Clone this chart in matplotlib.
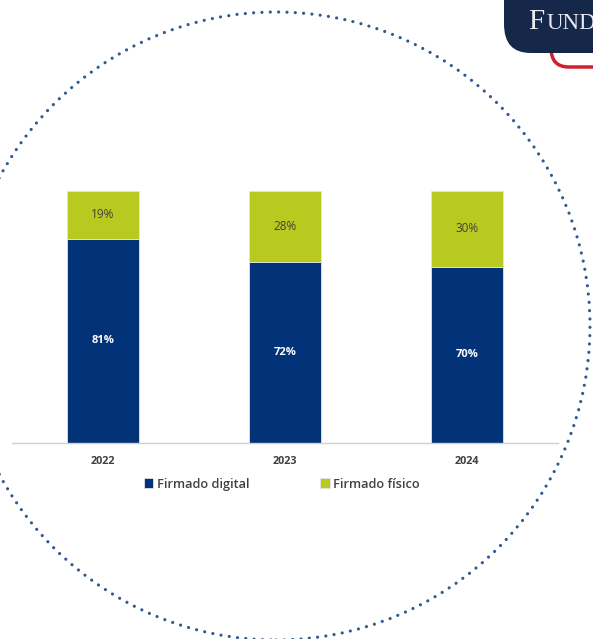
import matplotlib
matplotlib.use("Agg")
import matplotlib.pyplot as plt
import numpy as np
from matplotlib.patches import Ellipse, FancyBboxPatch

years = ["2022", "2023", "2024"]
digital = [81, 72, 70]
fisico = [19, 28, 30]
series_names = ["Firmado digital", "Firmado físico"]

NAVY = "#023378"
GREEN = "#B8C91F"
DOT = "#2F5A91"
TXT = "#404040"

W, H = 593, 639
fig = plt.figure(figsize=(W / 100, H / 100), dpi=100)
plt.rcParams['font.family'] = ['Open Sans', 'DejaVu Sans']

def fx(px):
    return px / W

def fy(py):
    return 1 - py / H

# dotted circle
circ = Ellipse((fx(276), fy(326)), width=628 / W, height=628 / H,
               transform=fig.transFigure, fill=False, edgecolor=DOT,
               linewidth=2.3, linestyle=(0, (0.01, 2.6)), capstyle='round',
               zorder=0)
fig.patches.append(circ)

# badge top right
red = FancyBboxPatch((fx(551), fy(67)), 0.3, 42 / H,
                     boxstyle="round,pad=0,rounding_size=0.03",
                     transform=fig.transFigure, facecolor="white",
                     edgecolor="#D0202E", linewidth=2.5, zorder=1)
fig.patches.append(red)
badge = FancyBboxPatch((fx(504), fy(53)), 0.3, 80 / H,
                       boxstyle="round,pad=0,rounding_size=0.045",
                       transform=fig.transFigure, facecolor="#15284A",
                       edgecolor="none", zorder=2)
fig.patches.append(badge)
fig.text(fx(528), fy(22), "F", family="Liberation Serif", fontsize=21,
         color="#ECECF2", va="center", ha="left", zorder=3)
fig.text(fx(547), fy(23.5), "UND", family="Liberation Serif", fontsize=16.5,
         color="#ECECF2", va="center", ha="left", zorder=3)

ax = fig.add_axes([fx(12), fy(443), 546 / W, 252 / H])
x = np.arange(len(years))
bw = 0.395
b1 = ax.bar(x, digital, bw, color=NAVY, label=series_names[0],
            edgecolor="#E0E4EC", linewidth=0.6, zorder=2)
b2 = ax.bar(x, fisico, bw, bottom=digital, color=GREEN, label=series_names[1],
            edgecolor="#E0E4EC", linewidth=0.6, zorder=2)

for i in range(len(years)):
    ax.text(x[i], digital[i] / 2, f"{digital[i]}%", ha="center", va="center",
            color="white", fontsize=8, fontweight="bold")
    ax.text(x[i], digital[i] + fisico[i] / 2, f"{fisico[i]}%", ha="center",
            va="center", color=TXT, fontsize=8.5)

ax.set_xlim(-0.5, 2.5)
ax.set_ylim(0, 100)
ax.set_xticks(x)
ax.set_xticklabels(years, fontsize=7.8, fontweight="bold", color=TXT)
ax.tick_params(axis="x", length=0, pad=9)
ax.set_yticks([])
for s in ["top", "left", "right"]:
    ax.spines[s].set_visible(False)
ax.spines["bottom"].set_color("#D0D0D0")
ax.spines["bottom"].set_linewidth(1.0)
ax.patch.set_alpha(0)

leg = ax.legend(ncol=2, loc="center", bbox_to_anchor=(0.4945, -0.163),
                frameon=False, fontsize=9.2, handlelength=0.75, handleheight=0.75,
                handletextpad=0.3, columnspacing=5.5, borderaxespad=0)
for t in leg.get_texts():
    t.set_color(TXT)
    t.set_fontweight("semibold")

fig.savefig("out.png", dpi=100)
